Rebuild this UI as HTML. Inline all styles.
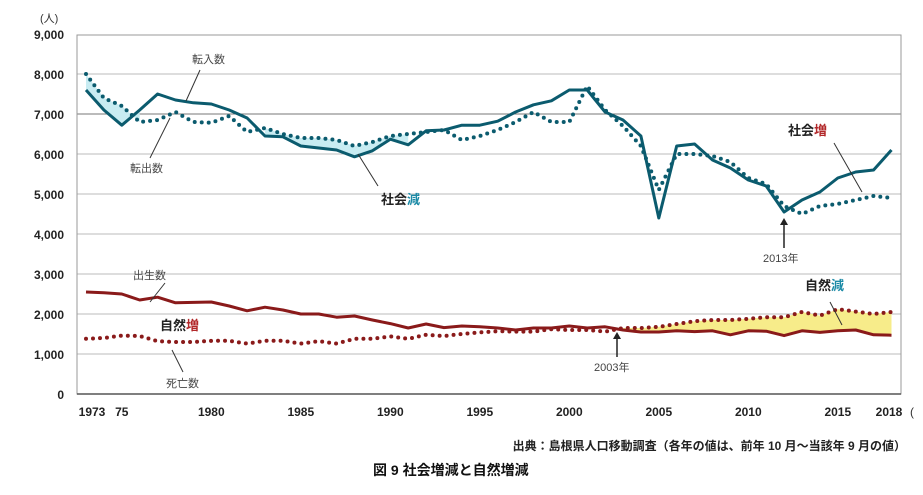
<!DOCTYPE html>
<html><head><meta charset="utf-8"><style>
body{margin:0;background:#fff;width:923px;height:490px;overflow:hidden;font-family:"Liberation Sans","Noto Sans CJK JP",sans-serif}
svg text{font-family:"Liberation Sans","Noto Sans CJK JP",sans-serif}
</style></head><body>
<svg id="s" width="923" height="490" xmlns="http://www.w3.org/2000/svg"></svg>
<script>
const X=y=>86+(y-1973)*17.9, Y=v=>394-v*0.04;
const tin=[7600,7100,6720,7100,7500,7350,7280,7250,7100,6900,6450,6430,6200,6150,6100,5930,6080,6370,6230,6580,6600,6720,6720,6820,7050,7230,7330,7600,7600,7050,6850,6450,4400,6200,6250,5850,5650,5350,5200,4550,4850,5050,5400,5550,5600,6100];
const tout=[8000,7400,7200,6800,6850,7050,6800,6780,6950,6550,6650,6500,6400,6400,6350,6200,6300,6450,6500,6550,6600,6350,6450,6600,6800,7050,6800,6800,7700,7100,6700,6200,5100,6000,6000,5950,5800,5400,5250,4700,4500,4700,4750,4850,4950,4900];
const birth=[2550,2530,2500,2350,2420,2280,2290,2300,2200,2080,2170,2100,2000,2000,1920,1950,1850,1760,1650,1750,1660,1700,1680,1650,1600,1650,1650,1700,1650,1680,1600,1550,1550,1580,1560,1580,1480,1580,1570,1460,1580,1540,1580,1600,1480,1470];
const death=[1380,1400,1460,1450,1320,1300,1300,1330,1330,1260,1330,1330,1260,1320,1260,1380,1380,1440,1380,1480,1450,1500,1540,1570,1560,1560,1620,1600,1600,1560,1650,1650,1680,1750,1820,1850,1850,1880,1920,1920,2050,1960,2120,2060,2000,2050];
let h='';
const pts=(a,i0,i1)=>{let p=[];for(let i=i0;i<=i1;i++)p.push(X(1973+i).toFixed(1)+','+Y(a[i]).toFixed(1));return p};
const band=(a,b,i0,i1,c)=>{h+=`<polygon points="${pts(a,i0,i1).concat(pts(b,i0,i1).reverse()).join(' ')}" fill="${c}"/>`};
// grid
for(let v=1000;v<=8000;v+=1000)h+=`<line x1="77" x2="901" y1="${Y(v)}" y2="${Y(v)}" stroke="${v==7000?'#777':'#bbb'}" stroke-width="1"/>`;
h+=`<rect x="77" y="35" width="824" height="359" fill="none" stroke="#999"/>`;
h+=`<line x1="77" x2="901" y1="394" y2="394" stroke="#555" stroke-width="1.5"/>`;
for(let v=0;v<=9000;v+=1000)h+=`<text x="64" y="${Y(v)+5}" font-size="12" font-weight="bold" text-anchor="end" fill="#222">${v==0?'0':v.toLocaleString('en-US')}</text>`;
h+=`<text x="40" y="22" font-size="11" fill="#333">(人)</text>`;
[[1973,'1973'],[1975,'75'],[1980,'1980'],[1985,'1985'],[1990,'1990'],[1995,'1995'],[2000,'2000'],[2005,'2005'],[2010,'2010'],[2015,'2015'],[2018,'2018']].forEach(([y,t])=>{let x=X(y);if(y==1973)x=92;if(y==2018)x=889;h+=`<text x="${x}" y="416" font-size="12" font-weight="bold" text-anchor="middle" fill="#222">${t}</text>`});
h+=`<text x="910" y="416" font-size="12" fill="#333">(</text>`;
// fills
band(tin,tout,0,3,'#c8ecf2');band(tin,tout,10,18,'#c8ecf2');
band(birth,death,30,45,'#f7ec8a');
// lines
const line=(a,c,dot)=>{h+=`<polyline points="${pts(a,0,45).join(' ')}" fill="none" stroke="${c}" stroke-width="${dot?4:3}" stroke-linejoin="round" ${dot?'stroke-linecap="round" stroke-dasharray="0 7"':''}/>`};
line(tout,'#0b5b6e',1);line(tin,'#0b5b6e',0);line(death,'#8a1a1a',1);line(birth,'#8a1a1a',0);
// annotations
const L=(x1,y1,x2,y2)=>h+=`<line x1="${x1}" y1="${y1}" x2="${x2}" y2="${y2}" stroke="#333" stroke-width="1"/>`;
L(200,70,186,101);h+=`<text x="192" y="63" font-size="11" fill="#444">転入数</text>`;
L(170,118,150,158);h+=`<text x="130" y="172" font-size="11" fill="#444">転出数</text>`;
L(358,154,378,186);h+=`<text x="381" y="204" font-size="13" font-weight="bold" fill="#222">社会<tspan fill="#1b8aa6">減</tspan></text>`;
L(834,143,862,192);h+=`<text x="788" y="135" font-size="13" font-weight="bold" fill="#222">社会<tspan fill="#b2282a">増</tspan></text>`;
h+=`<line x1="784" y1="248" x2="784" y2="222" stroke="#222" stroke-width="1.5"/><polygon points="784,218 780,225 788,225" fill="#222"/>`;
h+=`<text x="763" y="262" font-size="11" fill="#444">2013年</text>`;
L(165,283,150,302);h+=`<text x="133" y="279" font-size="11" fill="#444">出生数</text>`;
L(172,350,183,372);h+=`<text x="166" y="387" font-size="11" fill="#444">死亡数</text>`;
h+=`<text x="160" y="330" font-size="13" font-weight="bold" fill="#222">自然<tspan fill="#b2282a">増</tspan></text>`;
h+=`<line x1="617" y1="357" x2="617" y2="336" stroke="#222" stroke-width="1.5"/><polygon points="617,332 613,339 621,339" fill="#222"/>`;
h+=`<text x="594" y="371" font-size="11" fill="#444">2003年</text>`;
L(830,302,842,325);h+=`<text x="805" y="290" font-size="13" font-weight="bold" fill="#222">自然<tspan fill="#1b8aa6">減</tspan></text>`;
h+=`<text x="906" y="450" font-size="12" font-weight="bold" text-anchor="end" fill="#222">出典：島根県人口移動調査（各年の値は、前年 10 月～当該年 9 月の値）</text>`;
h+=`<text x="373" y="475" font-size="14" font-weight="bold" fill="#111">図 9  社会増減と自然増減</text>`;
document.getElementById('s').innerHTML=h;
</script>
</body></html>
